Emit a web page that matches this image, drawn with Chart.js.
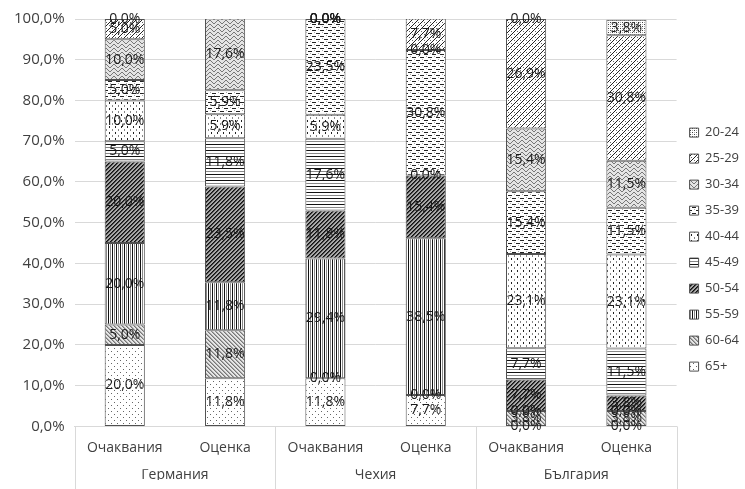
<!DOCTYPE html>
<html>
<head>
<meta charset="utf-8">
<script src="https://cdn.jsdelivr.net/npm/chart.js@4.4.1/dist/chart.umd.min.js"></script>
<style>
  html, body { margin: 0; padding: 0; background: #fff; }
</style>
</head>
<body>
<canvas id="chartAges" width="745" height="489"></canvas>
<script>
const countries = ['Германия', 'Чехия', 'България'];
const kinds = ['Очаквания', 'Оценка'];
const ageGroups = ['65+', '60-64', '55-59', '50-54', '45-49', '40-44', '35-39', '30-34', '25-29', '20-24'];
const yTicks = [0, 10, 20, 30, 40, 50, 60, 70, 80, 90, 100];

// share in %, columns: Германия Очаквания, Оценка, Чехия Очаквания, Оценка, България Очаквания, Оценка
const age65 = [20.0, 11.8, 11.8, 7.7, 0.0, 0.0];
const age60_64 = [5.0, 11.8, 0.0, 0.0, 3.8, 3.8];
const age55_59 = [20.0, 11.8, 29.4, 38.5, 0.0, 0.0];
const age50_54 = [20.0, 23.5, 11.8, 15.4, 7.7, 3.8];
const age45_49 = [5.0, 11.8, 17.6, 0.0, 7.7, 11.5];
const age40_44 = [10.0, 5.9, 5.9, null, 23.1, 23.1];
const age35_39 = [5.0, 5.9, 23.5, 30.8, 15.4, 11.5];
const age30_34 = [10.0, 17.6, 0.0, 0.0, 15.4, 11.5];
const age25_29 = [5.0, null, 0.0, 7.7, 26.9, 30.8];
const age20_24 = [0.0, null, 0.0, null, 0.0, 3.8];

const labels = [];
countries.forEach(() => kinds.forEach(k => labels.push(k)));

// excel-like fill patterns
function pattern(w, h, bg, dots) {
  const c = document.createElement('canvas');
  c.width = w;
  c.height = h;
  const g = c.getContext('2d');
  g.fillStyle = bg;
  g.fillRect(0, 0, w, h);
  dots.forEach(d => {
    g.fillStyle = d[2];
    g.fillRect(d[0], d[1], d[3] || 1, d[4] || 1);
  });
  return g.createPattern(c, 'repeat');
}

const fills = [
  // 65+
  pattern(6, 6, '#fff', [[0, 0, '#666'], [3, 3, '#666']]),
  // 60-64
  pattern(4, 4, '#e6e6e6', [[0, 0, '#777'], [1, 1, '#777'], [2, 2, '#777'], [3, 3, '#777'],
    [1, 0, '#aaa'], [2, 1, '#aaa'], [3, 2, '#aaa'], [0, 3, '#aaa']]),
  // 55-59
  pattern(4, 1, '#fff', [[0, 0, '#111'], [2, 0, '#888']]),
  // 50-54
  pattern(4, 4, '#a8a8a8', [[3, 0, '#111'], [2, 1, '#111'], [1, 2, '#111'], [0, 3, '#111'],
    [0, 0, '#444'], [3, 1, '#444'], [2, 2, '#444'], [1, 3, '#444']]),
  // 45-49
  pattern(1, 6, '#fff', [[0, 0, '#111'], [0, 3, '#888']]),
  // 40-44
  pattern(6, 6, '#fff', [[1, 0, '#222', 1, 2], [4, 3, '#888', 1, 2]]),
  // 35-39
  pattern(8, 6, '#fff', [[0, 0, '#222', 4, 1], [4, 3, '#222', 4, 1], [2, 2, '#aaa'], [6, 5, '#aaa']]),
  // 30-34
  pattern(8, 4, '#e4e4e4', [[0, 1, '#777'], [1, 0, '#777'], [2, 0, '#777'], [3, 1, '#777'],
    [4, 2, '#777'], [5, 3, '#777'], [6, 3, '#777'], [7, 2, '#777']]),
  // 25-29
  pattern(6, 6, '#fff', [[5, 0, '#222'], [4, 1, '#222'], [3, 2, '#222'], [2, 3, '#222'],
    [1, 4, '#222'], [0, 5, '#222'], [1, 1, '#666'], [4, 4, '#666']]),
  // 20-24
  pattern(4, 4, '#fff', [[0, 0, '#444'], [2, 2, '#444'], [2, 0, '#aaa'], [0, 2, '#aaa']])
];

const series = [age65, age60_64, age55_59, age50_54, age45_49, age40_44, age35_39, age30_34, age25_29, age20_24];

const datasets = series.map((values, i) => ({
  label: ageGroups[i],
  data: values,
  backgroundColor: fills[i],
  borderColor: '#505050',
  borderWidth: 1,
  borderSkipped: false,
  barPercentage: 0.4,
  categoryPercentage: 1.0,
}));

const fmt = v => v.toFixed(1).replace('.', ',') + '%';

// value labels in the middle of every segment
const segmentLabels = {
  id: 'segmentLabels',
  afterDatasetsDraw(chart) {
    const ctx = chart.ctx;
    ctx.save();
    ctx.font = '14px "Open Sans"';
    ctx.fillStyle = '#1a1a1a';
    ctx.textAlign = 'center';
    ctx.textBaseline = 'middle';
    chart.data.datasets.forEach((ds, i) => {
      const meta = chart.getDatasetMeta(i);
      meta.data.forEach((bar, j) => {
        const v = ds.data[j];
        if (v === null || v === undefined) return;
        const p = bar.getProps(['x', 'y', 'base'], true);
        ctx.fillText(fmt(v), p.x, (p.y + p.base) / 2);
      });
    });
    ctx.restore();
  }
};

// separators between country groups under the axis
const groupLines = {
  id: 'groupLines',
  afterDraw(chart) {
    const ctx = chart.ctx;
    const x = chart.scales.x;
    const area = chart.chartArea;
    ctx.save();
    ctx.strokeStyle = '#d9d9d9';
    ctx.lineWidth = 1;
    for (let g = 0; g <= countries.length; g++) {
      let px;
      if (g === 0) px = area.left;
      else if (g === countries.length) px = area.right;
      else px = (x.getPixelForValue(g * 2 - 1) + x.getPixelForValue(g * 2)) / 2;
      px = Math.round(px) + 0.5;
      ctx.beginPath();
      ctx.moveTo(px, area.bottom);
      ctx.lineTo(px, chart.height);
      ctx.stroke();
    }
    ctx.restore();
  }
};

Chart.defaults.font.family = '"Open Sans", sans-serif';

new Chart(document.getElementById('chartAges'), {
  type: 'bar',
  data: { labels: labels, datasets: datasets },
  options: {
    responsive: false,
    animation: false,
    layout: { padding: { top: 10, right: -4, left: 4, bottom: 9 } },
    plugins: {
      legend: {
        position: 'right',
        reverse: true,
        title: { display: true, text: ' ', padding: 4, font: { size: 1 } },
        labels: {
          boxWidth: 9,
          boxHeight: 9,
          padding: 13,
          color: '#404040',
          font: { size: 13 }
        }
      },
      tooltip: { enabled: false }
    },
    scales: {
      x: {
        stacked: true,
        grid: { display: false, drawTicks: false },
        border: { color: '#d9d9d9' },
        ticks: { color: '#404040', font: { size: 14 }, padding: 13, maxRotation: 0, autoSkip: false }
      },
      x2: {
        type: 'category',
        labels: countries,
        position: 'bottom',
        offset: true,
        grid: { display: false, drawTicks: false },
        border: { display: false },
        ticks: { color: '#404040', font: { size: 14 }, padding: -3, maxRotation: 0 }
      },
      y: {
        stacked: true,
        min: 0,
        max: 100,
        afterBuildTicks: axis => { axis.ticks = yTicks.map(v => ({ value: v })); },
        grid: { color: '#d9d9d9', drawTicks: false },
        border: { display: false },
        ticks: { color: '#404040', font: { size: 15 }, padding: 10, callback: v => fmt(v) }
      }
    }
  },
  plugins: [segmentLabels, groupLines]
});
</script>
</body>
</html>
